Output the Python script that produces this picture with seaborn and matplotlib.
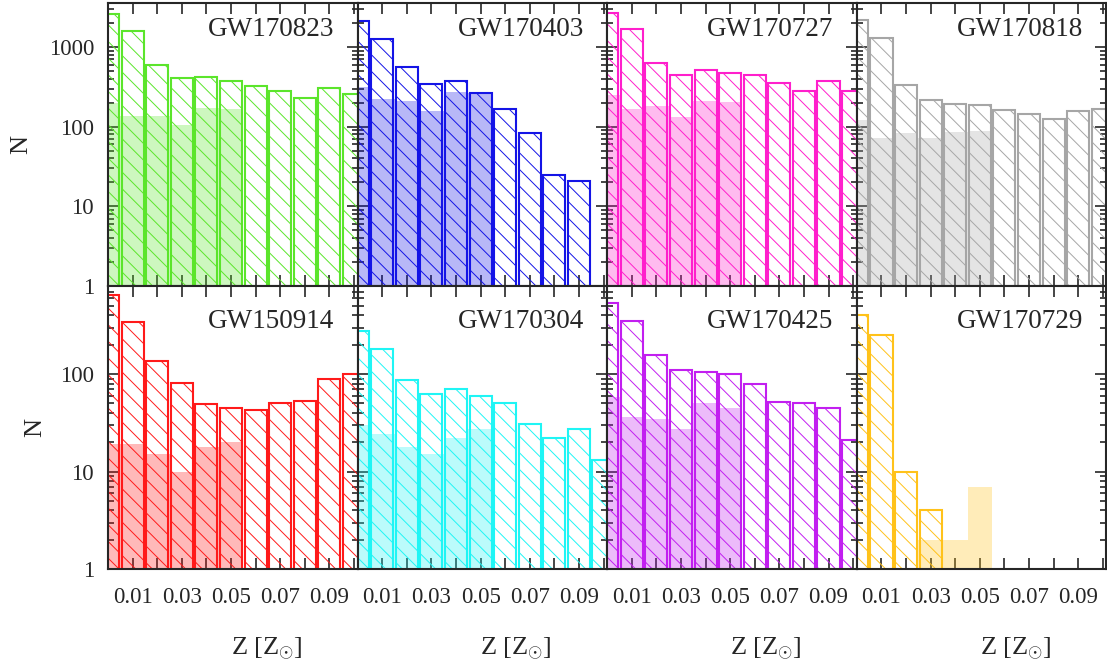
"""Distribucion de metalicidad de progenitores por evento GW."""

import matplotlib

matplotlib.use("Agg")
import matplotlib.pyplot as plt
import numpy as np
import pandas as pd
import seaborn as sns
from matplotlib.ticker import FixedLocator, LogLocator, NullFormatter

# centros de los bins en Z
z_centers = [0.00, 0.01, 0.02, 0.03, 0.04, 0.05, 0.06, 0.07, 0.08, 0.09, 0.10]
z_edges = [-0.005, 0.005, 0.015, 0.025, 0.035, 0.045, 0.055, 0.065, 0.075, 0.085, 0.095, 0.105]

events = ["GW170823", "GW170403", "GW170727", "GW170818",
          "GW150914", "GW170304", "GW170425", "GW170729"]
colors = ["#5be52b", "#1414e6", "#ff1fcc", "#a6a6a6",
          "#ff1a1a", "#1ff5f5", "#c21ff0", "#ffc21a"]

# todos los sistemas (barras rayadas)
gw170823_all = [2620, 1600, 590, 410, 413, 376, 321, 278, 230, 301, 258]
gw170403_all = [2110, 1243, 557, 338, 368, 265, 167, 83, 25, 21, 0]
gw170727_all = [2690, 1675, 625, 438, 511, 474, 438, 355, 281, 376, 281]
gw170818_all = [2155, 1290, 334, 214, 191, 185, 162, 143, 126, 157, 165]
gw150914_all = [652, 344, 135, 81, 49, 45, 43, 51, 53, 88, 100]
gw170304_all = [274, 182, 86, 63, 70, 60, 50, 31, 22, 27, 13]
gw170425_all = [540, 347, 158, 109, 105, 101, 80, 52, 50, 45, 21]
gw170729_all = [406, 249, 10, 4, 0, 0, 0, 0, 0, 0, 0]

# subconjunto (barras rellenas), solo primeros 6 bins
gw170823_sub = [196, 134, 137, 106, 170, 164]
gw170403_sub = [318, 219, 208, 159, 268, 260]
gw170727_sub = [250, 168, 179, 130, 212, 206]
gw170818_sub = [120, 71, 84, 71, 86, 89]
gw150914_sub = [19, 19, 15, 10, 18, 20]
gw170304_sub = [30, 24, 18, 15, 22, 27]
gw170425_sub = [58, 36, 35, 27, 50, 45]
gw170729_sub = [0, 0, 0, 2, 2, 7]

all_counts = [gw170823_all, gw170403_all, gw170727_all, gw170818_all,
              gw150914_all, gw170304_all, gw170425_all, gw170729_all]
sub_counts = [gw170823_sub, gw170403_sub, gw170727_sub, gw170818_sub,
              gw150914_sub, gw170304_sub, gw170425_sub, gw170729_sub]

rows = []
for name, full, sub in zip(events, all_counts, sub_counts):
    for z, n in zip(z_centers, full):
        rows.append({"event": name, "kind": "all", "Z": z, "N": n})
    for z, n in zip(z_centers, sub):
        rows.append({"event": name, "kind": "sub", "Z": z, "N": n})
df = pd.DataFrame(rows)
df = df[df["N"] > 0]

sns.set_style("ticks")
plt.rcParams["font.family"] = ["Liberation Serif", "DejaVu Serif"]
plt.rcParams["mathtext.fontset"] = "custom"
plt.rcParams["mathtext.rm"] = "Liberation Serif"
plt.rcParams["mathtext.it"] = "Liberation Serif:italic"
plt.rcParams["hatch.linewidth"] = 0.7
plt.rcParams["axes.linewidth"] = 1.5

fig = plt.figure(figsize=(11.07, 6.66), dpi=100)
axes = fig.subplots(
    2, 4,
    gridspec_kw=dict(left=0.0976, right=0.9995, top=0.9955, bottom=0.1456,
                     wspace=0, hspace=0),
)

x_ticks = [0.01, 0.02, 0.03, 0.04, 0.05, 0.06, 0.07, 0.08, 0.09, 0.10]
x_labels = ["0.01", "", "0.03", "", "0.05", "", "0.07", "", "0.09", ""]

for i, (ax, name, color) in enumerate(zip(axes.flat, events, colors)):
    row, col = divmod(i, 4)
    ev = df[df["event"] == name]

    sns.histplot(data=ev[ev["kind"] == "sub"], x="Z", weights="N", bins=z_edges,
                 color=color, alpha=0.3, edgecolor="none", linewidth=0, ax=ax)
    sns.histplot(data=ev[ev["kind"] == "all"], x="Z", weights="N", bins=z_edges,
                 shrink=0.9, fill=False, color=color, hatch="\\\\",
                 linewidth=1.5, ax=ax)

    ax.set_yscale("log")
    ax.set_xlim(0, 0.1015)
    ax.set_ylim(1, 3550 if row == 0 else 800)

    ax.xaxis.set_major_locator(FixedLocator(x_ticks))
    ax.yaxis.set_major_locator(FixedLocator([1, 10, 100, 1000]))
    ax.yaxis.set_minor_locator(LogLocator(base=10, subs=np.arange(2, 10)))
    ax.yaxis.set_minor_formatter(NullFormatter())
    ax.tick_params(which="both", direction="in", top=True, right=True,
                   labelsize=16.5, width=1.2)
    ax.tick_params(which="major", length=8)
    ax.tick_params(which="minor", length=4)
    ax.tick_params(axis="x", pad=13)
    ax.tick_params(axis="y", pad=10)

    if row == 1:
        ax.set_xticklabels(x_labels)
        ax.set_xlabel(r"Z [Z$_{\odot}$]", fontsize=19)
        ax.xaxis.label.set_va("center")
        ax.xaxis.set_label_coords(0.635, -0.28)
    else:
        ax.set_xticklabels([])
        ax.set_xlabel("")

    if col == 0:
        ax.set_yticklabels(["1", "10", "100", "1000"])
        ax.set_ylabel("N", fontsize=19)
        ax.yaxis.label.set_va("center")
        ax.yaxis.set_label_coords(-0.348 if row == 0 else -0.292, 0.5)
    else:
        ax.set_yticklabels([])
        ax.set_ylabel("")

    ax.text(0.4, 0.905 if row == 0 else 0.874, name, transform=ax.transAxes,
            ha="left", va="center", fontsize=19.5)

fig.savefig("out.png", dpi=100)
